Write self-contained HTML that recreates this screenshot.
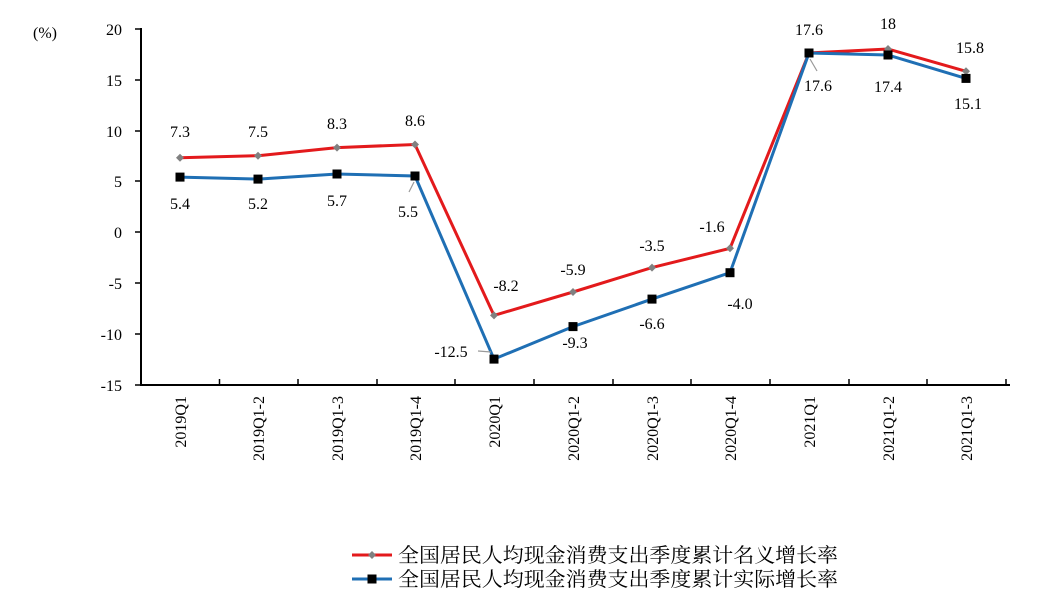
<!DOCTYPE html>
<html><head><meta charset="utf-8"><style>body{margin:0;background:#fff}svg{display:block}</style></head>
<body>
<svg width="1040" height="606" xmlns="http://www.w3.org/2000/svg" font-family="Liberation Serif, Noto Serif CJK SC, serif" font-size="15" fill="#000">
<rect width="1040" height="606" fill="#fff"/>
<g stroke="#000" stroke-width="2" fill="none">
<line x1="141" y1="28" x2="141" y2="386"/>
<line x1="140" y1="385" x2="1010" y2="385"/>
</g>
<g stroke="#000" stroke-width="1.5">
<line x1="135" y1="29" x2="141" y2="29"/><line x1="135" y1="80" x2="141" y2="80"/><line x1="135" y1="131" x2="141" y2="131"/><line x1="135" y1="181" x2="141" y2="181"/><line x1="135" y1="232" x2="141" y2="232"/><line x1="135" y1="283" x2="141" y2="283"/><line x1="135" y1="334" x2="141" y2="334"/><line x1="135" y1="385" x2="141" y2="385"/>
<line x1="219.5" y1="379" x2="219.5" y2="385"/><line x1="298" y1="379" x2="298" y2="385"/><line x1="377" y1="379" x2="377" y2="385"/><line x1="455" y1="379" x2="455" y2="385"/><line x1="534" y1="379" x2="534" y2="385"/><line x1="613" y1="379" x2="613" y2="385"/><line x1="691" y1="379" x2="691" y2="385"/><line x1="770" y1="379" x2="770" y2="385"/><line x1="849" y1="379" x2="849" y2="385"/><line x1="927" y1="379" x2="927" y2="385"/><line x1="1006" y1="379" x2="1006" y2="385"/>
</g>
<g text-anchor="end" font-size="16">
<text x="122" y="35">20</text><text x="122" y="86">15</text><text x="122" y="137">10</text><text x="122" y="187">5</text><text x="122" y="238">0</text><text x="122" y="289">-5</text><text x="122" y="340">-10</text><text x="122" y="391">-15</text>
</g>
<text x="33" y="38" font-size="16">(%)</text>
<g text-anchor="end" font-size="16">
<text transform="translate(186,396) rotate(-90)">2019Q1</text>
<text transform="translate(264,396) rotate(-90)">2019Q1-2</text>
<text transform="translate(343,396) rotate(-90)">2019Q1-3</text>
<text transform="translate(421,396) rotate(-90)">2019Q1-4</text>
<text transform="translate(500,396) rotate(-90)">2020Q1</text>
<text transform="translate(579,396) rotate(-90)">2020Q1-2</text>
<text transform="translate(658,396) rotate(-90)">2020Q1-3</text>
<text transform="translate(736,396) rotate(-90)">2020Q1-4</text>
<text transform="translate(815,396) rotate(-90)">2021Q1</text>
<text transform="translate(894,396) rotate(-90)">2021Q1-2</text>
<text transform="translate(972,396) rotate(-90)">2021Q1-3</text>
</g>
<polyline fill="none" stroke="#e31a1c" stroke-width="3" points="180,157.8 258,155.7 337,147.6 415,144.5 494,315.4 573,292 652,267.6 730,248.3 809,53 888,49 966,71.3"/>
<polyline fill="none" stroke="#1f6fb4" stroke-width="3" points="180,177.1 258,179.1 337,174 415,176 494,359.1 573,326.6 652,299.1 730,272.7 809,53 888,55 966,78.4"/>
<g fill="#808080">
<path d="M180,153.8l4,4-4,4-4-4z"/><path d="M258,151.7l4,4-4,4-4-4z"/><path d="M337,143.6l4,4-4,4-4-4z"/><path d="M415,140.5l4,4-4,4-4-4z"/><path d="M494,311.4l4,4-4,4-4-4z"/><path d="M573,288l4,4-4,4-4-4z"/><path d="M652,263.6l4,4-4,4-4-4z"/><path d="M730,244.3l4,4-4,4-4-4z"/><path d="M888,45l4,4-4,4-4-4z"/><path d="M966,67.3l4,4-4,4-4-4z"/>
</g>
<g fill="#000">
<rect x="175.5" y="172.6" width="9" height="9"/><rect x="253.5" y="174.6" width="9" height="9"/><rect x="332.5" y="169.5" width="9" height="9"/><rect x="410.5" y="171.5" width="9" height="9"/><rect x="489.5" y="354.6" width="9" height="9"/><rect x="568.5" y="322.1" width="9" height="9"/><rect x="647.5" y="294.6" width="9" height="9"/><rect x="725.5" y="268.2" width="9" height="9"/><rect x="804.5" y="48.5" width="9" height="9"/><rect x="883.5" y="50.5" width="9" height="9"/><rect x="961.5" y="73.9" width="9" height="9"/>
</g>
<g stroke="#999" stroke-width="1.2"><line x1="409" y1="192" x2="414" y2="182"/><line x1="478" y1="351" x2="491" y2="352"/><line x1="817" y1="71" x2="810" y2="59"/></g>
<g text-anchor="middle" font-size="16">
<text x="180" y="137">7.3</text><text x="258" y="137">7.5</text><text x="337" y="129">8.3</text><text x="415" y="126">8.6</text>
<text x="180" y="209">5.4</text><text x="258" y="209">5.2</text><text x="337" y="206">5.7</text><text x="408" y="217">5.5</text>
<text x="506" y="291">-8.2</text><text x="573" y="275">-5.9</text><text x="652" y="251">-3.5</text><text x="712" y="232">-1.6</text>
<text x="451" y="357">-12.5</text><text x="575" y="348">-9.3</text><text x="652" y="329">-6.6</text><text x="740" y="309">-4.0</text>
<text x="809" y="35">17.6</text><text x="888" y="29">18</text><text x="970" y="53">15.8</text>
<text x="818" y="91">17.6</text><text x="888" y="92">17.4</text><text x="968" y="109">15.1</text>
</g>
<g font-family="Liberation Serif, Noto Serif CJK SC, serif" font-size="20">
<line x1="352" y1="555" x2="392" y2="555" stroke="#e31a1c" stroke-width="3"/>
<path d="M372,551l4,4-4,4-4-4z" fill="#808080"/>
<text x="398" y="562" textLength="440" lengthAdjust="spacingAndGlyphs">全国居民人均现金消费支出季度累计名义增长率</text>
<line x1="352" y1="579" x2="392" y2="579" stroke="#1f6fb4" stroke-width="3"/>
<rect x="367.5" y="574.5" width="9" height="9"/>
<text x="398" y="586" textLength="440" lengthAdjust="spacingAndGlyphs">全国居民人均现金消费支出季度累计实际增长率</text>
</g>
</svg>
</body></html>
